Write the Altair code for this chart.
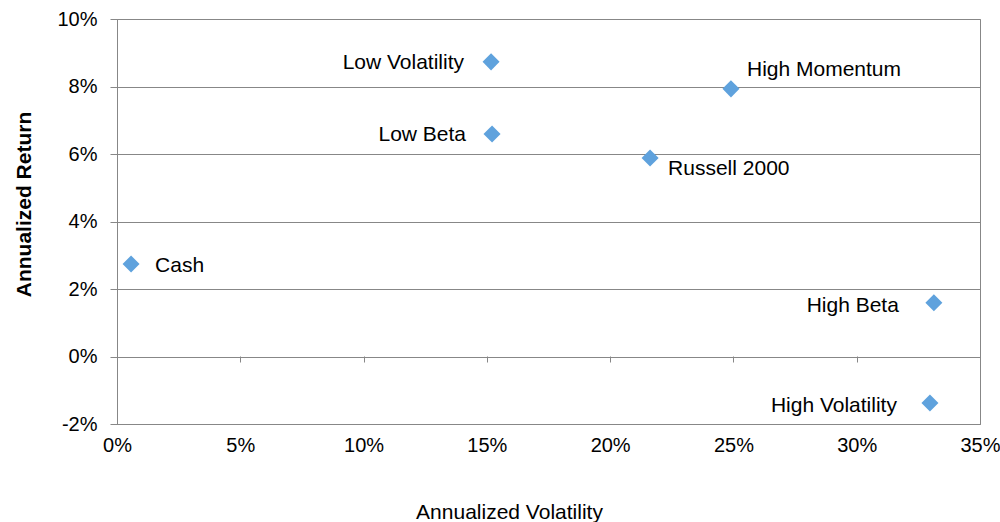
import altair as alt
import pandas as pd

names = ["Low Volatility", "High Momentum", "Low Beta", "Russell 2000", "Cash", "High Beta", "High Volatility"]
volatility = [0.1517, 0.2490, 0.1521, 0.2162, 0.0057, 0.3313, 0.3297]
returns = [0.0873, 0.0793, 0.0659, 0.0588, 0.0274, 0.0159, -0.0138]

x_ticks = [0, 0.05, 0.10, 0.15, 0.20, 0.25, 0.30, 0.35]
y_ticks = [-0.02, 0, 0.02, 0.04, 0.06, 0.08, 0.10]

# label placement (annotation style, not data)
label_offsets = {
    "Low Volatility": ("right", -27, 1),
    "High Momentum": ("left", 16, -19),
    "Low Beta": ("right", -26, 1),
    "Russell 2000": ("left", 18, 11),
    "Cash": ("left", 24, 2),
    "High Beta": ("right", -35, 3),
    "High Volatility": ("right", -33, 3),
}

df = pd.DataFrame({"name": names, "vol": volatility, "ret": returns})

FONT = "Liberation Sans"
GRID = "#878787"
LABEL_EXPR = "replace(datum.label, '\\u2212', '-')"

xscale = alt.Scale(domain=[0, 0.35], nice=False, zero=False)
yscale = alt.Scale(domain=[-0.02, 0.10], nice=False, zero=False)

y_axis = alt.Axis(values=y_ticks, format=".0%", title="Annualized Return",
                  labelExpr=LABEL_EXPR,
                  grid=True, gridColor=GRID, gridWidth=1,
                  ticks=True, tickSize=7, tickColor=GRID,
                  domain=True, domainColor=GRID,
                  labelFont=FONT, labelFontSize=20, labelColor="#000",
                  labelPadding=13, labelFlush=False, labelOverlap=False,
                  titleFont=FONT, titleFontSize=21, titleFontWeight="bold",
                  titleColor="#000", titleX=-93, titleY=185,
                  titleBaseline="middle", titleAlign="center", titleAngle=-90)

base = alt.Chart(df)

points = base.mark_point(shape="diamond", filled=True, size=290, color="#5fa2dd", opacity=1).encode(
    x=alt.X("vol:Q", scale=xscale,
            axis=alt.Axis(orient="bottom", values=x_ticks, format=".0%", title="Annualized Volatility",
                          grid=False, ticks=False, domain=True, domainColor=GRID,
                          labelFont=FONT, labelFontSize=20, labelColor="#000",
                          labelPadding=11, labelFlush=False, labelOverlap=False,
                          titleFont=FONT, titleFontSize=21, titleFontWeight="normal",
                          titleColor="#000", titleX=392, titleY=94,
                          titleBaseline="alphabetic", titleAnchor="start", titleAlign="center")),
    y=alt.Y("ret:Q", scale=yscale, axis=y_axis),
)

zero_axis = base.mark_point(opacity=0).encode(
    x=alt.X("vol:Q", scale=xscale,
            axis=alt.Axis(orient="bottom", values=x_ticks, labels=False, title=None, grid=False,
                          ticks=True, tickSize=6, tickColor=GRID,
                          domain=False, offset=-68)),
    y=alt.Y("ret:Q", scale=yscale, axis=y_axis),
)

layers = [points]
for name, (align, dx, dy) in label_offsets.items():
    layers.append(
        base.transform_filter(alt.datum.name == name)
        .mark_text(align=align, baseline="middle", dx=dx, dy=dy,
                   font=FONT, fontSize=21, color="#000")
        .encode(x=alt.X("vol:Q", scale=xscale, axis=None),
                y=alt.Y("ret:Q", scale=yscale, axis=y_axis),
                text="name:N")
    )
layers.append(zero_axis)

chart = (
    alt.layer(*layers)
    .resolve_axis(x="independent")
    .properties(
        width=863, height=405,
        autosize=alt.AutoSizeParams(type="none"),
        padding={"left": 117, "top": 19, "right": 20, "bottom": 98},
        background="white",
    )
    .configure_view(stroke=GRID, strokeWidth=1)
)

chart.save("out.html", embed_options={"renderer": "svg", "actions": False})
